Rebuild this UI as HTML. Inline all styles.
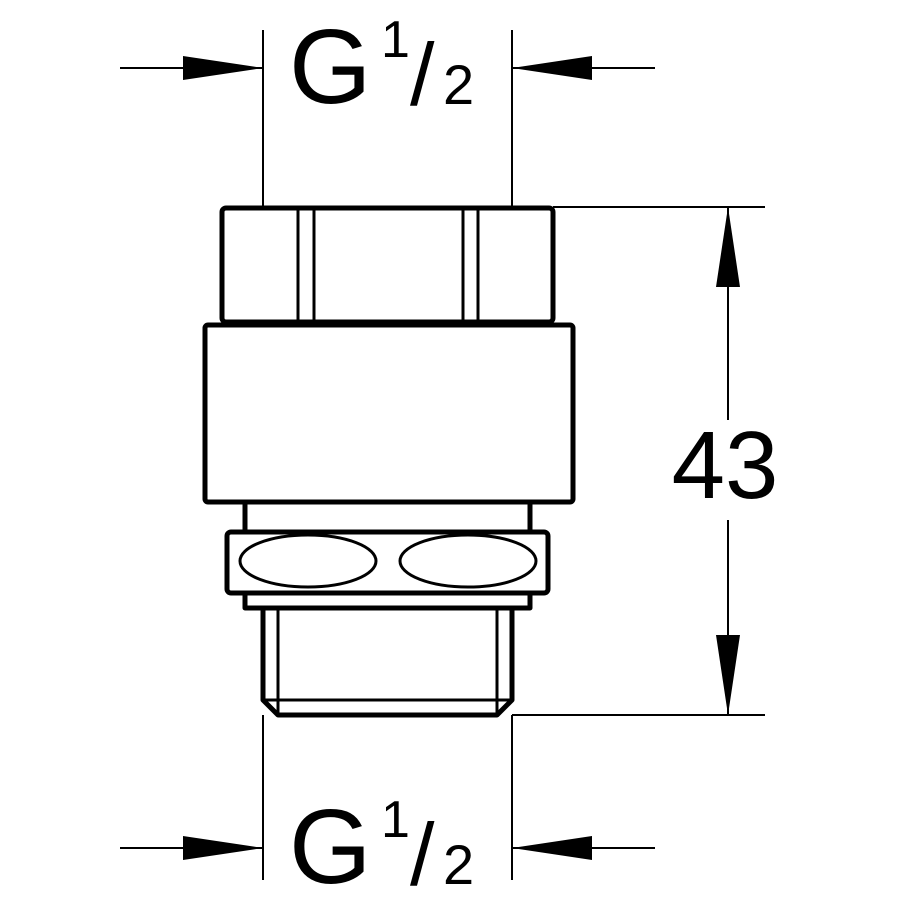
<!DOCTYPE html>
<html><head><style>body{margin:0;background:#fff}svg{display:block}</style></head><body>
<svg width="898" height="898" viewBox="0 0 898 898" xmlns="http://www.w3.org/2000/svg" font-family="Liberation Sans, sans-serif">
<g stroke="#000" fill="none">
<g stroke-width="2">
<line x1="263" y1="30" x2="263" y2="207"/><line x1="512" y1="30" x2="512" y2="207"/>
<line x1="263" y1="715" x2="263" y2="880"/><line x1="512" y1="715" x2="512" y2="880"/>
<line x1="120" y1="68" x2="263" y2="68"/><line x1="512" y1="68" x2="655" y2="68"/>
<line x1="120" y1="848" x2="263" y2="848"/><line x1="512" y1="848" x2="655" y2="848"/>
<line x1="553" y1="207" x2="765" y2="207"/><line x1="512" y1="715" x2="765" y2="715"/>
<line x1="728" y1="207" x2="728" y2="420"/><line x1="728" y1="520" x2="728" y2="715"/>
</g>
<g stroke-width="5" stroke-linejoin="round">
<rect x="222" y="208" width="331" height="114" rx="4"/>
<rect x="205" y="325" width="368" height="177" rx="3"/>
<rect x="245" y="502" width="285" height="30"/>
<rect x="227" y="532" width="321" height="61" rx="4"/>
<rect x="245" y="593" width="285" height="15"/>
<path d="M263 608 V700 L278 715 H497 L512 700 V608"/>
</g>
<g stroke-width="3">
<line x1="298" y1="210" x2="298" y2="320"/><line x1="314" y1="210" x2="314" y2="320"/>
<line x1="463" y1="210" x2="463" y2="320"/><line x1="478" y1="210" x2="478" y2="320"/>
<line x1="278" y1="608" x2="278" y2="715"/><line x1="497" y1="608" x2="497" y2="715"/>
<line x1="263" y1="700" x2="512" y2="700"/>
<ellipse cx="308" cy="561" rx="68" ry="26"/><ellipse cx="468" cy="561" rx="68" ry="26"/>
</g>
</g>
<g fill="#000">
<polygon points="183,56 263,68 183,80"/><polygon points="592,56 512,68 592,80"/>
<polygon points="183,836 263,848 183,860"/><polygon points="592,836 512,848 592,860"/>
<polygon points="716,287 728,207 740,287"/><polygon points="716,635 728,715 740,635"/>
<text x="289" y="103" font-size="106">G</text>
<text x="381" y="57" font-size="52">1</text>
<text x="410" y="105" font-size="88">/</text>
<text x="443" y="104" font-size="56">2</text>
<text x="289" y="883" font-size="106">G</text>
<text x="381" y="837" font-size="52">1</text>
<text x="410" y="885" font-size="88">/</text>
<text x="443" y="884" font-size="56">2</text>
<text x="725" y="498" font-size="96" text-anchor="middle">43</text>
</g>
</svg>
</body></html>
